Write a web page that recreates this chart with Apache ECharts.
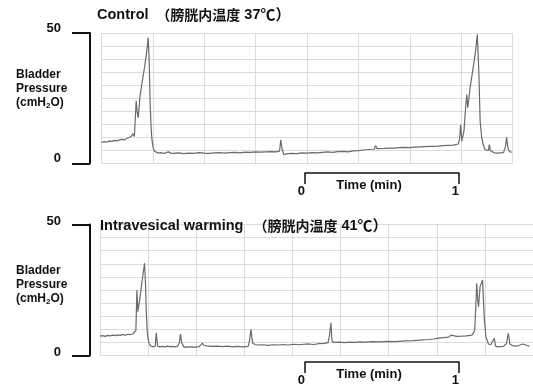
<!DOCTYPE html>
<html>
<head>
<meta charset="utf-8">
<script src="https://cdn.jsdelivr.net/npm/echarts@6/dist/echarts.min.js"></script>
<style>
  html, body { margin: 0; padding: 0; background: #fff; }
  #chart { width: 533px; height: 387px; }
</style>
</head>
<body>
<div id="chart"></div>
<script>
// 膀胱内圧の記録（横軸: 秒, 縦軸: cmH2O）
const controlTrace = [
  [0, 8.0], [1, 8.3], [2, 8.1], [3, 8.5], [4, 8.4], [5, 8.8], [6, 8.6], [7, 9.0], [8, 9.2], [9, 9.0],
  [10, 9.6], [11, 10.0], [11.8, 10.6], [12.2, 11.4], [12.8, 10.3], [13.3, 10.6], [13.5, 24.0], [13.9, 19.5],
  [14.3, 17.5], [14.7, 22.0], [15.0, 26.0], [15.8, 31.0], [16.7, 36.5], [17.5, 42.0], [18.2, 48.2],
  [18.6, 38.0], [18.9, 24.0], [19.3, 14.0], [19.6, 9.5], [20.1, 6.0], [20.6, 4.6], [21.3, 4.2], [22.1, 3.9],
  [23, 4.1], [24, 3.8], [25, 4.0], [26, 4.4], [27, 3.9], [28, 3.8], [30, 4.0], [32, 3.7], [34, 3.9],
  [36, 3.8], [38, 4.1], [40, 3.9], [42, 3.8], [44, 4.0], [46, 4.1], [48, 3.9], [50, 4.1], [52, 4.2],
  [54, 4.0], [56, 4.3], [58, 4.2], [60, 4.4], [62, 4.3], [64, 4.4], [66, 4.5], [68, 4.4], [69.3, 4.7],
  [69.8, 9.0], [70.3, 5.5], [71.0, 3.3], [72, 3.6], [74, 3.8], [76, 3.7], [78, 4.0], [80, 3.9], [82, 4.1],
  [84, 4.0], [86, 4.2], [88, 4.4], [90, 4.2], [92, 4.5], [94, 4.6], [96, 4.4], [98, 4.8], [100, 4.9],
  [102, 5.1], [104, 5.3], [106.2, 5.4], [106.7, 6.8], [107.3, 5.6], [108, 5.5], [110, 5.7], [112, 5.8],
  [114, 5.8], [116, 6.0], [118, 6.1], [120, 6.0], [122, 6.2], [124, 6.3], [126, 6.4], [127.9, 6.5],
  [128.4, 7.2], [129, 6.5], [131, 6.6], [133, 6.8], [135, 6.9], [137, 7.0], [138.9, 7.4], [139.4, 9.5],
  [139.8, 14.8], [140.3, 8.5], [141.1, 12.3], [141.8, 22.0], [142.2, 26.4], [142.6, 21.3], [143.5, 29.0],
  [144.5, 35.5], [145.5, 42.0], [146.3, 49.5], [146.9, 35.0], [147.4, 16.2], [148.0, 10.0], [148.6, 7.2],
  [149.3, 5.2], [150.0, 4.6], [150.6, 4.9], [151.0, 7.2], [151.4, 4.8], [151.9, 4.2], [153, 4.0],
  [154, 3.9], [155.1, 4.0], [156.5, 4.1], [157.3, 6.5], [157.7, 10.0], [158.1, 7.0], [158.4, 5.2],
  [159, 4.4], [159.7, 4.3]
];

const warmingTrace = [
  [0, 7.4], [1, 7.6], [2, 7.3], [3, 7.7], [4, 7.5], [5, 7.8], [6, 7.6], [7, 7.9], [8, 7.7], [9, 8.0],
  [10, 7.8], [11, 8.1], [12, 8.0], [13, 8.3], [13.6, 8.5], [14.1, 9.5], [14.5, 25.0], [14.9, 16.7],
  [15.3, 19.5], [15.6, 21.2], [16.2, 26.0], [16.9, 31.0], [17.5, 35.2], [17.9, 27.0], [18.2, 16.1],
  [18.5, 10.0], [18.8, 6.6], [19.3, 4.6], [19.9, 3.6], [20.8, 3.4], [21.7, 3.5], [22.1, 8.7], [22.4, 5.5],
  [22.7, 3.6], [23.5, 3.3], [24.5, 3.5], [25.5, 3.3], [26.5, 3.6], [27.5, 3.4], [28.5, 3.5], [29.5, 3.3],
  [30.5, 3.6], [31.2, 5.0], [31.6, 8.2], [32.1, 4.7], [33.1, 3.1], [34, 3.3], [35, 3.2], [36, 3.4],
  [37, 3.1], [38, 3.3], [39, 3.4], [39.6, 3.6], [40.2, 4.7], [40.8, 3.9], [42, 3.7], [44, 3.5], [46, 3.6],
  [48, 3.4], [50, 3.6], [52, 3.3], [54, 3.5], [56, 3.3], [58.2, 3.5], [58.8, 6.0], [59.3, 10.0],
  [59.7, 6.5], [60.0, 4.7], [61, 4.2], [62, 4.0], [64, 4.1], [66, 3.9], [68, 4.1], [70, 4.0], [72, 4.2],
  [74, 4.0], [76, 4.3], [78, 4.1], [80, 4.3], [82, 4.4], [84, 4.2], [86, 4.5], [88, 4.6], [89.6, 4.9],
  [90.2, 8.0], [90.7, 12.5], [91.0, 7.5], [91.2, 5.3], [92, 5.0], [94, 5.1], [96, 4.9], [98, 5.1],
  [100, 5.0], [102, 5.2], [104, 5.1], [107, 5.3], [110, 5.2], [113, 5.4], [116, 5.3], [120, 5.6],
  [123, 5.7], [126, 5.9], [129, 6.1], [131, 6.3], [133, 6.6], [135, 6.8], [137, 7.0], [138.0, 7.8],
  [138.6, 7.1], [140, 7.3], [142.2, 7.4], [144, 7.5], [146.1, 7.8], [146.7, 8.6], [147.2, 9.7],
  [147.6, 18.0], [148.0, 27.6], [148.4, 21.0], [148.7, 18.6], [149.3, 26.3], [150.3, 28.8], [150.7, 20.0],
  [151.0, 13.5], [151.6, 7.2], [152.6, 4.4], [153.5, 4.1], [154.2, 4.0], [154.9, 6.6], [155.4, 3.6],
  [156.3, 3.3], [157.1, 3.4], [158.5, 3.5], [159.7, 4.6], [160.4, 8.5], [160.8, 6.0], [161.0, 4.4],
  [162, 3.8], [163, 3.6], [164.5, 3.8], [166.2, 4.4], [167.5, 3.9], [168.7, 3.6]
];

const pressureTicks = [0, 50];   // 縦軸の目盛り
const timeTicks = [0, 1];        // スケールバー（分）
const controlGridStep = 20;      // 記録紙の縦罫（秒）
const warmingGridStep = 18.9;
const pressureGridStep = 5;

const controlTitle = '{en|Control}  {cn|（膀胱内温度}{gap| }{en|37}{deg|℃）}';
const warmingTitle = '{en|Intravesical warming}{wide| }{cn|（膀胱内温度}{gap| }{en|41}{deg|℃）}';
const pressureLabel = 'Bladder\nPressure\n(cmH{sub|2}O)';
const timeLabel = 'Time (min)';

const latin = '"Liberation Sans", Arial, sans-serif';
const cjk = '"Noto Sans CJK JP", sans-serif';
const ink = '#111';
const gridColor = '#dcdcdc';
const traceColor = '#6a6a6a';

const titleRich = {
  en: { fontFamily: latin, fontWeight: 'bold', fontSize: 14.5, color: ink },
  cn: { fontFamily: cjk, fontWeight: 'bold', fontSize: 14, color: ink },
  gap: { fontFamily: latin, fontSize: 14, width: 4 },
  wide: { fontFamily: latin, fontSize: 14, width: 10 },
  deg: { fontFamily: cjk, fontWeight: 'bold', fontSize: 15, color: ink }
};
const labelStyle = {
  fontFamily: latin, fontWeight: 'bold', fontSize: 12, color: ink, lineHeight: 14,
  rich: { sub: { fontFamily: latin, fontWeight: 'bold', fontSize: 8, color: ink, lineHeight: 14, verticalAlign: 'bottom' } }
};

function gridX(idx, step, count) {
  return {
    gridIndex: idx, type: 'value', min: 0, max: step * count, interval: step,
    axisLine: { show: false }, axisTick: { show: false }, axisLabel: { show: false },
    splitLine: { show: true, lineStyle: { color: gridColor, width: 1 } }
  };
}

function gridY(idx) {
  return {
    gridIndex: idx, type: 'value', min: pressureTicks[0], max: pressureTicks[1], interval: pressureGridStep,
    axisLine: { show: false }, axisTick: { show: false }, axisLabel: { show: false },
    splitLine: { show: true, lineStyle: { color: gridColor, width: 1 } }
  };
}

function bracketY(idx, offset, lift) {
  return {
    gridIndex: idx, type: 'value', position: 'left', offset: offset,
    min: pressureTicks[0], max: pressureTicks[1], interval: pressureTicks[1] - pressureTicks[0],
    axisLine: { show: true, onZero: false, lineStyle: { color: ink, width: 2 } },
    axisTick: { show: true, length: 18, lineStyle: { color: ink, width: 2 } },
    axisLabel: {
      margin: 29, fontFamily: latin, fontWeight: 'bold', fontSize: 13, color: ink,
      verticalAlign: 'bottom', lineHeight: lift
    },
    splitLine: { show: false }
  };
}

// 時間スケールバー（0〜1分）
function scaleX(idx) {
  return {
    gridIndex: idx, type: 'value', position: 'bottom',
    min: timeTicks[0], max: timeTicks[1], interval: timeTicks[1] - timeTicks[0],
    axisLine: { show: true, onZero: false, lineStyle: { color: ink, width: 1.5 } },
    axisTick: { show: true, length: 11, lineStyle: { color: ink, width: 1.5 } },
    axisLabel: { margin: 12, align: 'right', fontFamily: latin, fontWeight: 'bold', fontSize: 13, color: ink },
    splitLine: { show: false },
    name: timeLabel, nameLocation: 'middle', nameGap: 6, nameMoveOverlap: false,
    nameTextStyle: { fontFamily: latin, fontWeight: 'bold', fontSize: 13, color: ink, padding: [0, 26, 0, 0] }
  };
}

function hiddenY(idx) {
  return { gridIndex: idx, type: 'value', min: 0, max: 1, show: false };
}

const chart = echarts.init(document.getElementById('chart'));

const option = {
  animation: false,
  backgroundColor: '#fff',
  title: [
    { text: controlTitle, left: 97, top: 7, padding: 0, textStyle: { fontFamily: latin, fontSize: 14, fontWeight: 'bold', color: ink, rich: titleRich } },
    { text: warmingTitle, left: 100, top: 218, padding: 0, textStyle: { fontFamily: latin, fontSize: 14, fontWeight: 'bold', color: ink, rich: titleRich } },
    { text: pressureLabel, left: 16, top: 68, padding: 0, textStyle: labelStyle },
    { text: pressureLabel, left: 16, top: 264, padding: 0, textStyle: labelStyle }
  ],
  grid: [
    { left: 101.5, top: 33, width: 411, height: 130.3 },
    { left: 100, top: 224.5, width: 436.2, height: 131 },
    { left: 305, top: 163, width: 154, height: 10 },
    { left: 305, top: 358.5, width: 154, height: 10 }
  ],
  xAxis: [
    gridX(0, controlGridStep, 8),
    gridX(1, warmingGridStep, 9),
    scaleX(2),
    scaleX(3)
  ],
  yAxis: [
    gridY(0), bracketY(0, 11.5, 9),
    gridY(1), bracketY(1, 10, 6),
    hiddenY(2), hiddenY(3)
  ],
  series: [
    {
      name: 'Control', type: 'line', xAxisIndex: 0, yAxisIndex: 0, data: controlTrace,
      showSymbol: false, silent: true, lineStyle: { color: traceColor, width: 1.2 }
    },
    {
      name: 'Intravesical warming', type: 'line', xAxisIndex: 1, yAxisIndex: 2, data: warmingTrace,
      showSymbol: false, silent: true, lineStyle: { color: traceColor, width: 1.2 }
    }
  ]
};

chart.setOption(option);
</script>
</body>
</html>
